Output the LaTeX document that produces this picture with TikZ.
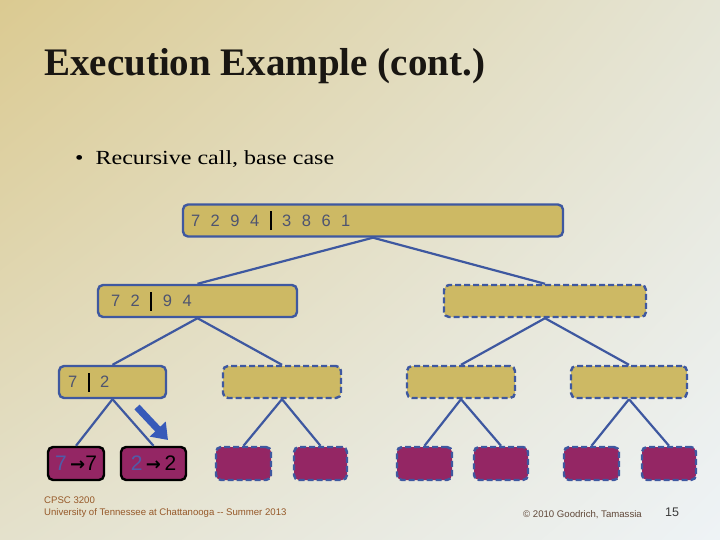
\documentclass[tikz,border=0pt]{standalone}
\usepackage{fontspec}
\setmainfont{Liberation Serif}
\newfontfamily\bulletfont[FakeStretch=1.2]{Liberation Serif}
\newfontfamily\digitfont{Liberation Sans}
\newfontfamily\footfont{Liberation Sans}
\newfontfamily\arrowfont{DejaVu Sans}
\usetikzlibrary{arrows.meta,shadings}

\definecolor{tanbox}{RGB}{205,185,100}
\definecolor{treeblue}{RGB}{62,88,160}
\definecolor{leafpurple}{RGB}{148,38,100}
\definecolor{digitgrey}{RGB}{78,84,112}
\definecolor{fadeblue}{RGB}{80,92,168}
\definecolor{pointblue}{RGB}{55,90,185}
\definecolor{footbrown}{RGB}{150,88,40}
\definecolor{bgul}{RGB}{219,202,145}
\definecolor{bgur}{RGB}{229,229,214}
\definecolor{bgll}{RGB}{228,225,204}
\definecolor{bglr}{RGB}{238,243,246}
\definecolor{titleink}{RGB}{25,22,18}
\definecolor{creditink}{RGB}{95,70,55}
\definecolor{pageink}{RGB}{60,60,60}

\newcommand\splitbar{\textcolor{black}{\rule[-4pt]{2pt}{19pt}}}
\newcommand\dg{\hspace{10.5pt}}

\tikzset
{
  box0/.style={draw=treeblue,fill=tanbox,line width=2.4pt,rounded corners=5pt,
    minimum height=32pt,inner ysep=0pt,align=left,text=digitgrey,
    font=\digitfont\fontsize{16.5}{17}\selectfont},
  box1/.style={box0,dash pattern=on 6pt off 3pt},
  leaf0/.style={draw=black,fill=leafpurple,line width=2.4pt,rounded corners=5pt,
    minimum height=33pt,inner sep=0pt,font=\digitfont\fontsize{21}{21}\selectfont},
  leaf1/.style={leaf0,draw=treeblue,dash pattern=on 6pt off 3pt},
  edge/.style={treeblue,line width=2.2pt},
  pointer/.style={pointblue,line width=7pt,-{Triangle[length=15pt,width=21pt]}}
}

\begin{document}
\begin{tikzpicture}[x=1pt,y=-1pt]
\useasboundingbox (0,0) rectangle (720,540);
\shade[upper left=bgul,upper right=bgur,lower left=bgll,lower right=bglr]
  (0,0) rectangle (720,540);%背景渐变

\node[anchor=base west,inner sep=0pt,font=\fontsize{39}{39}\selectfont\bfseries,text=titleink]
  (title) at (44,76) {Execution Example (cont.)};
\node[anchor=base west,inner sep=0pt,font=\bulletfont\fontsize{20}{20}\selectfont]
  (bullet) at (75,165) {\textbullet\hspace{12pt}Recursive call, base case};

% 第一层
\node[box0,inner xsep=7pt,text width=364pt,minimum width=380pt] (root) at (373,220.5)
  {7\dg 2\dg 9\dg 4\dg\splitbar\dg 3\dg 8\dg 6\dg 1};
% 第二层
\node[box0,inner xsep=13pt,text width=173pt,minimum width=199pt] (half1) at (197.5,301)
  {7\dg 2\dg\splitbar\dg 9\dg 4};
\node[box1,minimum width=202pt] (half2) at (545,301) {};
% 第三层
\node[box0,inner xsep=9pt,text width=89pt,minimum width=107pt] (q1) at (112.5,382)
  {7\dg\splitbar\dg 2};
\foreach \n/\x/\w in {2/282/118,3/461/108,4/629/116}
  \node[box1,minimum width=\w pt] (q\n) at (\x,382) {};
% 叶子
\node[leaf0,minimum width=56pt] (leaf1) at (76,463.5)
  {\textcolor{fadeblue}{7}\,{\arrowfont\bfseries\fontsize{18}{18}\selectfont →}7};
\node[leaf0,minimum width=65pt] (leaf2) at (153.5,463.5)
  {\textcolor{fadeblue}{2}\,{\arrowfont\bfseries\fontsize{18}{18}\selectfont →}\,2};
\foreach \n/\x/\w in {3/243.5/55,4/320.5/53,5/424.5/55,6/501/54,7/591.5/55,8/669/54}
  \node[leaf1,minimum width=\w pt] (leaf\n) at (\x,463.5) {};

\foreach \p/\c in {root/half1,root/half2,half1/q1,half1/q2,half2/q3,half2/q4,
  q1/leaf1,q1/leaf2,q2/leaf3,q2/leaf4,q3/leaf5,q3/leaf6,q4/leaf7,q4/leaf8}
  \draw[edge] (\p.south) -- (\c.north);

\coordinate (ptail) at (137,407);
\coordinate (phead) at (168,440);
\draw[pointer] (ptail) -- (phead);%当前调用

% 页脚
\node[anchor=base west,inner sep=0pt,align=left,text=footbrown,font=\footfont\fontsize{9.6}{12}\selectfont]
  (course) at (44,515) {CPSC 3200\\University of Tennessee at Chattanooga -- Summer 2013};
\node[anchor=base west,inner sep=0pt,text=creditink,font=\footfont\fontsize{9.6}{12}\selectfont]
  (credit) at (523,517) {© 2010 Goodrich, Tamassia};
\node[anchor=base west,inner sep=0pt,text=pageink,font=\footfont\fontsize{12.5}{13}\selectfont]
  (page) at (665,516) {15};
\end{tikzpicture}
\end{document}
